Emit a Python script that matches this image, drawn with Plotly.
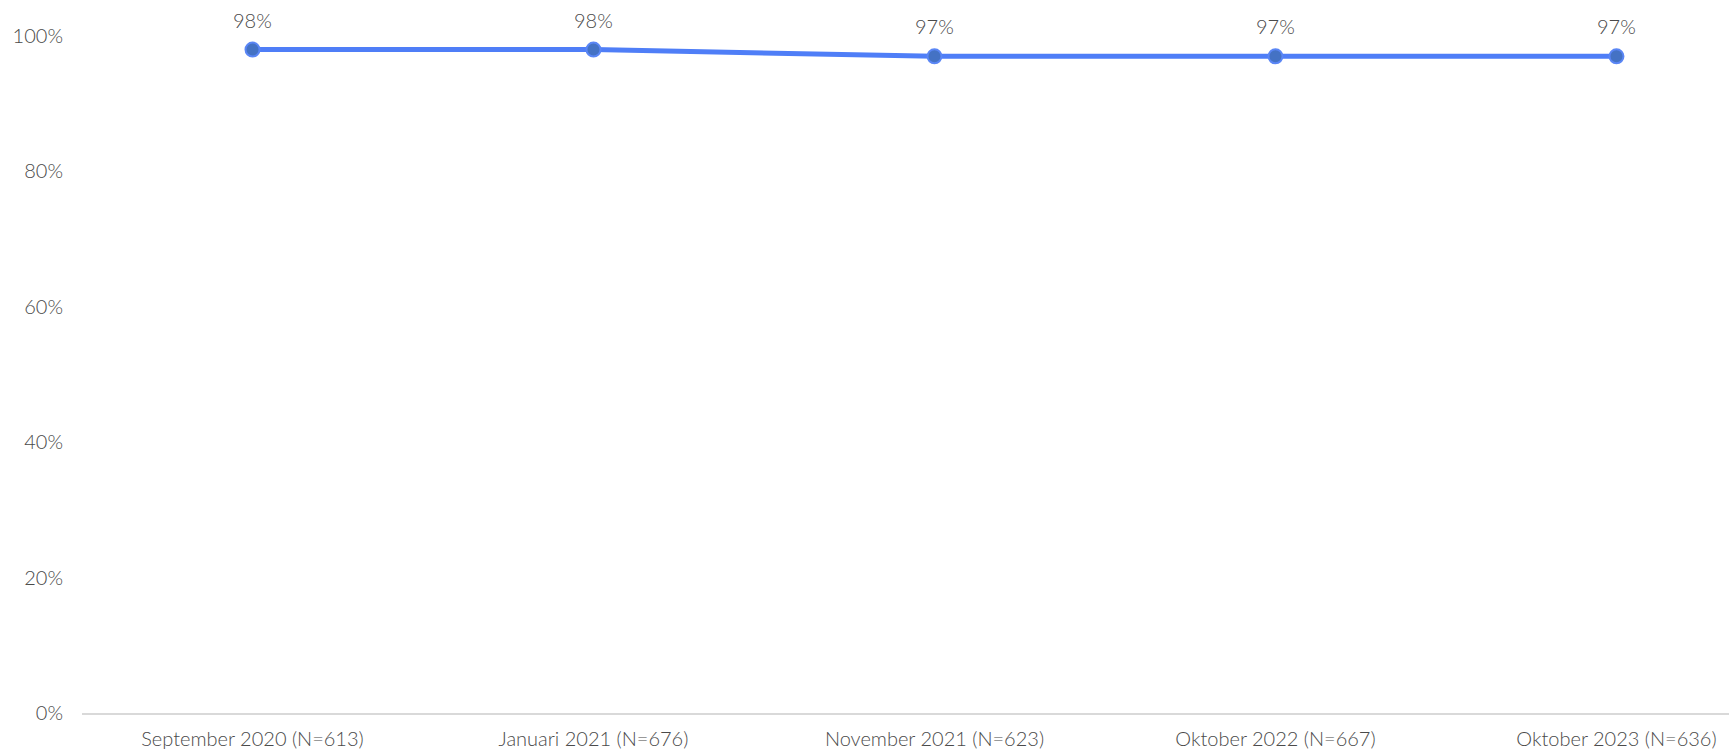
import plotly.graph_objects as go

# Survey waves and the share of respondents per wave
categories = [
    "September 2020 (N=613)",
    "Januari 2021 (N=676)",
    "November 2021 (N=623)",
    "Oktober 2022 (N=667)",
    "Oktober 2023 (N=636)",
]
values = [0.98, 0.98, 0.97, 0.97, 0.97]
value_labels = ["98%", "98%", "97%", "97%", "97%"]
y_ticks = [0, 0.2, 0.4, 0.6, 0.8, 1.0]
y_tick_labels = ["0%", "20%", "40%", "60%", "80%", "100%"]

FONT = "Lato, 'Open Sans', sans-serif"
GREY = "#4A4A4A"
SIZE = 20

fig = go.Figure(
    go.Scatter(
        x=categories,
        y=values,
        mode="lines+markers",
        line=dict(color="#4F7EF7", width=5),
        marker=dict(size=14, color="#4472C4", line=dict(color="#5A86F5", width=2)),
        cliponaxis=False,
        hoverinfo="skip",
    )
)

# value labels sit a fixed distance above each point
for cat, val, lab in zip(categories, values, value_labels):
    fig.add_annotation(
        x=cat, y=val, text=lab, showarrow=False,
        yshift=30, font=dict(family=FONT, size=SIZE, color=GREY, weight=300),
    )

fig.update_layout(
    width=1729,
    height=754,
    margin=dict(l=82, r=0, t=36, b=41),
    paper_bgcolor="white",
    plot_bgcolor="white",
    showlegend=False,
    font=dict(family=FONT, size=SIZE, color=GREY, weight=300),
)

fig.update_xaxes(
    type="category",
    range=[-0.5, 4.33],
    showgrid=False,
    zeroline=False,
    showline=True,
    linecolor="#D9D9D9",
    linewidth=2,
    ticks="",
    ticklabelstandoff=7,
    tickfont=dict(family=FONT, size=SIZE, color=GREY, weight=300),
)

fig.update_yaxes(
    range=[0, 1.0],
    tickvals=y_ticks,
    ticktext=y_tick_labels,
    showgrid=False,
    zeroline=False,
    showline=False,
    ticks="",
    ticklabelstandoff=18,
    tickfont=dict(family=FONT, size=SIZE, color=GREY, weight=300),
)

fig.write_html("out.html")
